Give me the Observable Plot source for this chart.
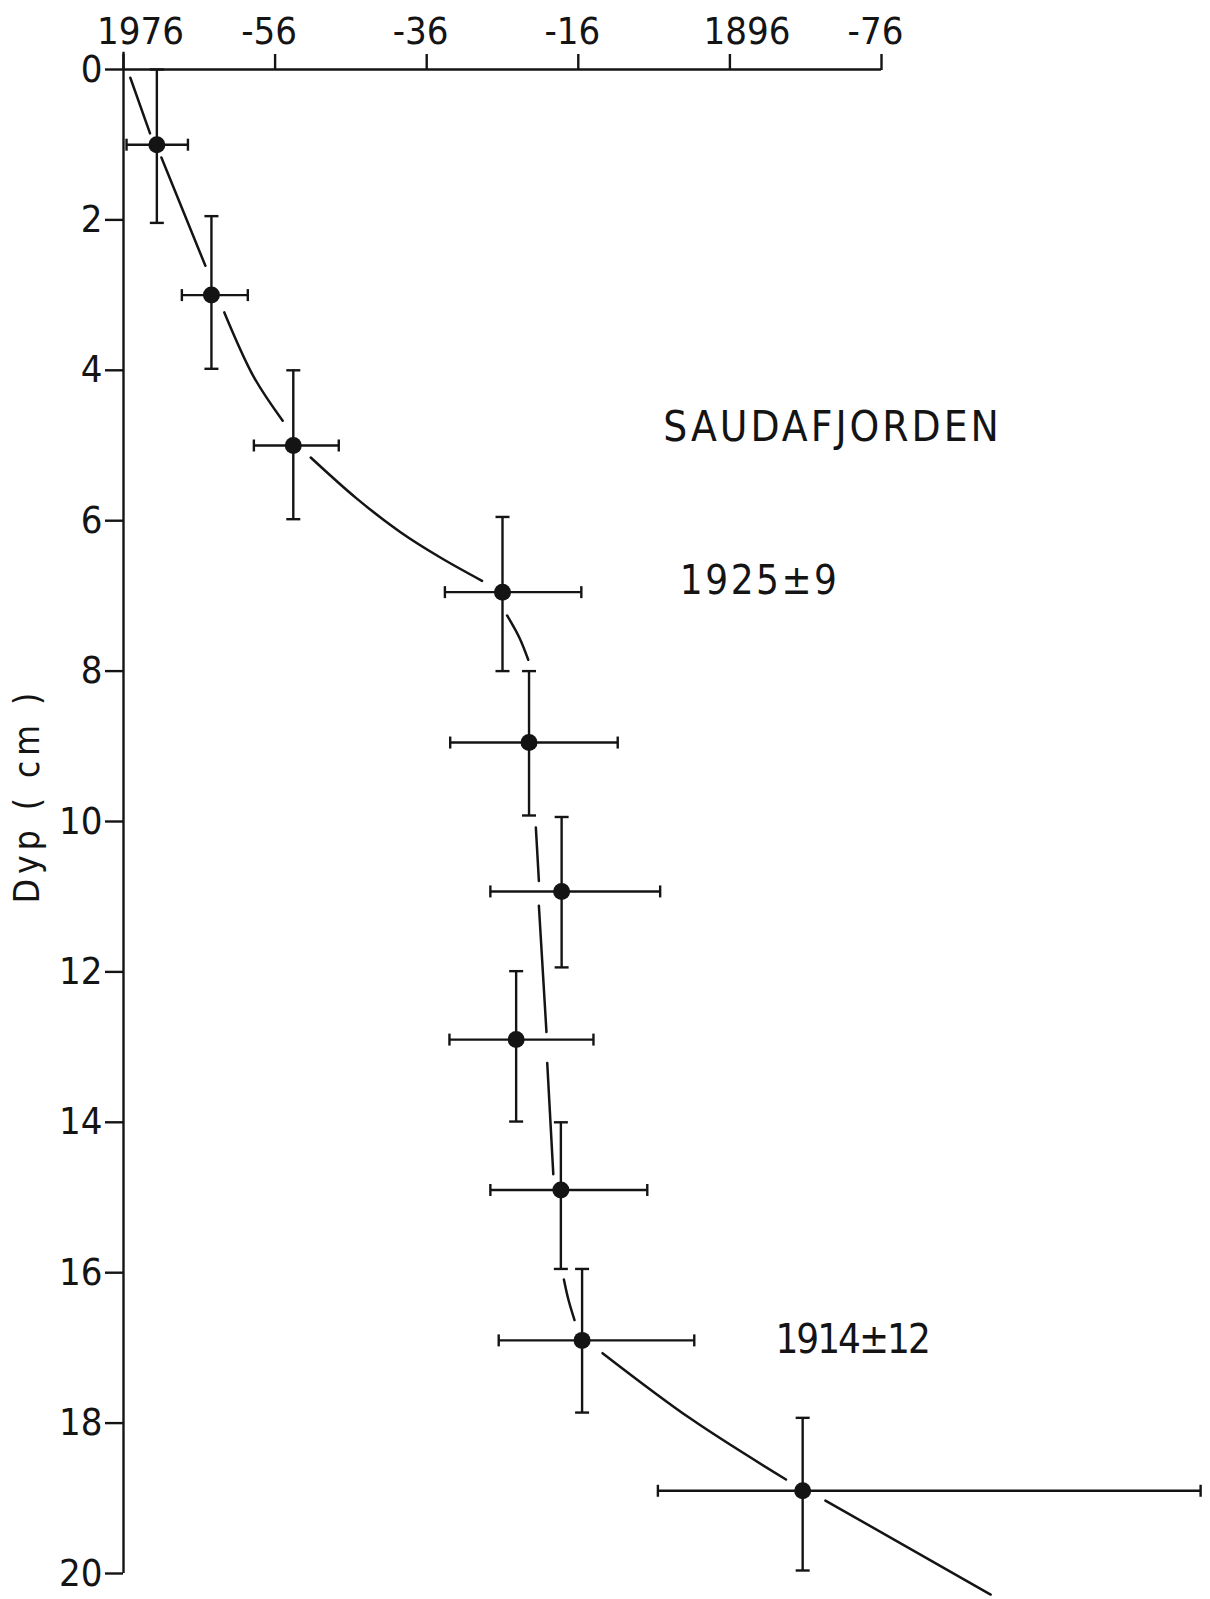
<!DOCTYPE html>
<html>
<head>
<meta charset="utf-8">
<script src="https://cdn.jsdelivr.net/npm/d3@7"></script>
<script src="https://cdn.jsdelivr.net/npm/@observablehq/plot@0.6"></script>
<style>
  html, body { margin: 0; padding: 0; background: #ffffff; }
  #chart svg { display: block; }
</style>
</head>
<body>
<div id="chart"></div>
<script>
// ---- data ----
// dated sediment slices: mean year, depth (cm), year error range, depth range
const pointYear  = [1971.6, 1964.4, 1953.6, 1926.0, 1922.5, 1918.2, 1924.2, 1918.3, 1915.5, 1886.4];
const pointDepth = [1.0, 3.0, 5.0, 6.95, 8.95, 10.93, 12.9, 14.9, 16.9, 18.9];
const yearLo     = [1975.6, 1968.3, 1958.8, 1933.6, 1932.9, 1927.6, 1933.0, 1927.6, 1926.5, 1905.5];
const yearHi     = [1967.5, 1959.6, 1947.6, 1915.6, 1910.8, 1905.2, 1914.0, 1906.9, 1900.7, 1833.9];
const depthLo    = [0.0, 1.95, 4.0, 5.95, 8.0, 9.94, 11.99, 14.0, 15.95, 17.93];
const depthHi    = [2.04, 3.98, 5.98, 8.0, 9.92, 11.94, 13.99, 15.95, 17.86, 19.96];

// fitted age curve (drawn broken around the markers; null = gap)
const curveYear  = [1975.1, 1972.5, null,
                    1971.0, 1965.2, null,
                    1962.7, 1958.8, 1955.0, null,
                    1951.3, 1945.3, 1939.5, 1934.2, 1928.7, null,
                    1925.4, 1923.8, 1922.6, null,
                    1921.6, 1921.2, null,
                    1921.2, 1920.2, null,
                    1920.1, 1919.3, null,
                    1917.9, 1917.3, 1916.5, null,
                    1912.8, 1901.2, 1888.6, null,
                    1883.4, 1861.6];
const curveDepth = [0.11, 0.85, null,
                    1.17, 2.61, null,
                    3.23, 4.09, 4.67, null,
                    5.16, 5.70, 6.15, 6.49, 6.80, null,
                    7.26, 7.55, 7.85, null,
                    10.08, 10.79, null,
                    11.12, 12.80, null,
                    13.21, 14.69, null,
                    16.09, 16.36, 16.63, null,
                    17.07, 17.94, 18.75, null,
                    19.03, 20.28];

// axes
const xTickYears  = [1976, 1956, 1936, 1916, 1896, 1876];
const xTickLabels = ["1976", "-56", "-36", "-16", "1896", "-76"];
const yTicks      = [0, 2, 4, 6, 8, 10, 12, 14, 16, 18, 20];
const yLabel      = "Dyp ( cm )";

// annotations (anchored in data space)
const annoText  = ["SAUDAFJORDEN", "1925±9", "1914±12"];
const annoYear  = [1904.8, 1902.6, 1890.0];
const annoDepth = [4.76, 6.81, 16.9];

// ---- build ----
const ink = "#141414";
const FONT = '"Liberation Sans Narrow", "DejaVu Sans Condensed", "Liberation Sans", sans-serif';

const rows = pointYear.map((y, i) => ({
  year: y, depth: pointDepth[i], xLo: yearLo[i], xHi: yearHi[i], dLo: depthLo[i], dHi: depthHi[i]
}));
const annos = annoText.map((t, i) => ({t, year: annoYear[i], depth: annoDepth[i]}));
const labelOf = y => xTickLabels[xTickYears.indexOf(y)];
const fullTicks = xTickYears.filter(y => !labelOf(y).startsWith("-"));
const dashTicks = xTickYears.filter(y => labelOf(y).startsWith("-"));

const vCap = {draw(ctx, size) { const r = Math.sqrt(size / Math.PI); ctx.moveTo(0, -r); ctx.lineTo(0, r); }};
const hCap = {draw(ctx, size) { const r = Math.sqrt(size / Math.PI); ctx.moveTo(-r, 0); ctx.lineTo(r, 0); }};

const SW = 2.4;

const chart = Plot.plot({
  width: 1210,
  height: 1599,
  marginLeft: 123, marginRight: 329, marginTop: 69, marginBottom: 26,
  style: {fontFamily: FONT, fontSize: "38px", color: ink, background: "#ffffff", overflow: "visible"},
  x: {domain: [1976, 1876], range: [123, 881]},
  y: {domain: [0, 20], range: [69, 1573]},
  marks: [
    // axis lines
    Plot.ruleY([0], {x1: 1976, x2: 1876, stroke: ink, strokeWidth: SW}),
    Plot.ruleX([1976], {y1: -0.23, y2: 20, stroke: ink, strokeWidth: SW}),
    // top axis ticks
    Plot.axisX(xTickYears, {anchor: "top", tickSize: 16, fill: "none", stroke: ink, strokeWidth: SW, label: null}),
    // top axis labels
    Plot.axisX(fullTicks, {anchor: "top", tickSize: 0, tickPadding: 26, tickFormat: labelOf, dx: 17, fill: ink, label: null}),
    Plot.axisX(dashTicks, {anchor: "top", tickSize: 0, tickPadding: 26, tickFormat: labelOf, dx: -6, fill: ink, label: null}),
    // left axis
    Plot.axisY(yTicks, {anchor: "left", tickSize: 18, tickPadding: 3, tickFormat: d => String(d), stroke: ink, strokeWidth: SW, fill: ink, label: null}),
    Plot.text([yLabel], {frameAnchor: "left", textAnchor: "middle", dx: -96, dy: -26, rotate: -90, fontSize: 35, fill: ink, text: d => d}),
    // age curve
    Plot.line(curveYear.map((_, i) => i), {
      x: i => curveYear[i], y: i => curveDepth[i],
      stroke: ink, strokeWidth: 2.5, curve: "catmull-rom"
    }),
    // error bars
    Plot.ruleY(rows, {y: "depth", x1: "xLo", x2: "xHi", stroke: ink, strokeWidth: SW}),
    Plot.ruleX(rows, {x: "year", y1: "dLo", y2: "dHi", stroke: ink, strokeWidth: SW}),
    Plot.dot(rows, {x: "xLo", y: "depth", symbol: vCap, r: 6, stroke: ink, strokeWidth: SW, fill: "none"}),
    Plot.dot(rows, {x: "xHi", y: "depth", symbol: vCap, r: 6, stroke: ink, strokeWidth: SW, fill: "none"}),
    Plot.dot(rows, {x: "year", y: "dLo", symbol: hCap, r: 7, stroke: ink, strokeWidth: SW, fill: "none"}),
    Plot.dot(rows, {x: "year", y: "dHi", symbol: hCap, r: 7, stroke: ink, strokeWidth: SW, fill: "none"}),
    // markers
    Plot.dot(rows, {x: "year", y: "depth", r: 8.5, fill: ink, stroke: "none"}),
    // annotations
    Plot.text([annos[0]], {x: "year", y: "depth", text: "t", textAnchor: "start", fontSize: 42, fill: ink}),
    Plot.text([annos[1]], {x: "year", y: "depth", text: "t", textAnchor: "start", fontSize: 40, fill: ink}),
    Plot.text([annos[2]], {x: "year", y: "depth", text: "t", textAnchor: "start", fontSize: 40, fill: ink})
  ]
});

// letter spacing of the stencil lettering
const spacing = {"SAUDAFJORDEN": 3, "1925±9": 2.5, "1914±12": -2, "Dyp ( cm )": 5};
chart.querySelectorAll("text").forEach(t => {
  const s = spacing[t.textContent];
  if (s != null) t.setAttribute("letter-spacing", s);
  else if (/^-?\d+$/.test(t.textContent)) t.setAttribute("letter-spacing", 0);
});

document.getElementById("chart").appendChild(chart);
</script>
</body>
</html>
